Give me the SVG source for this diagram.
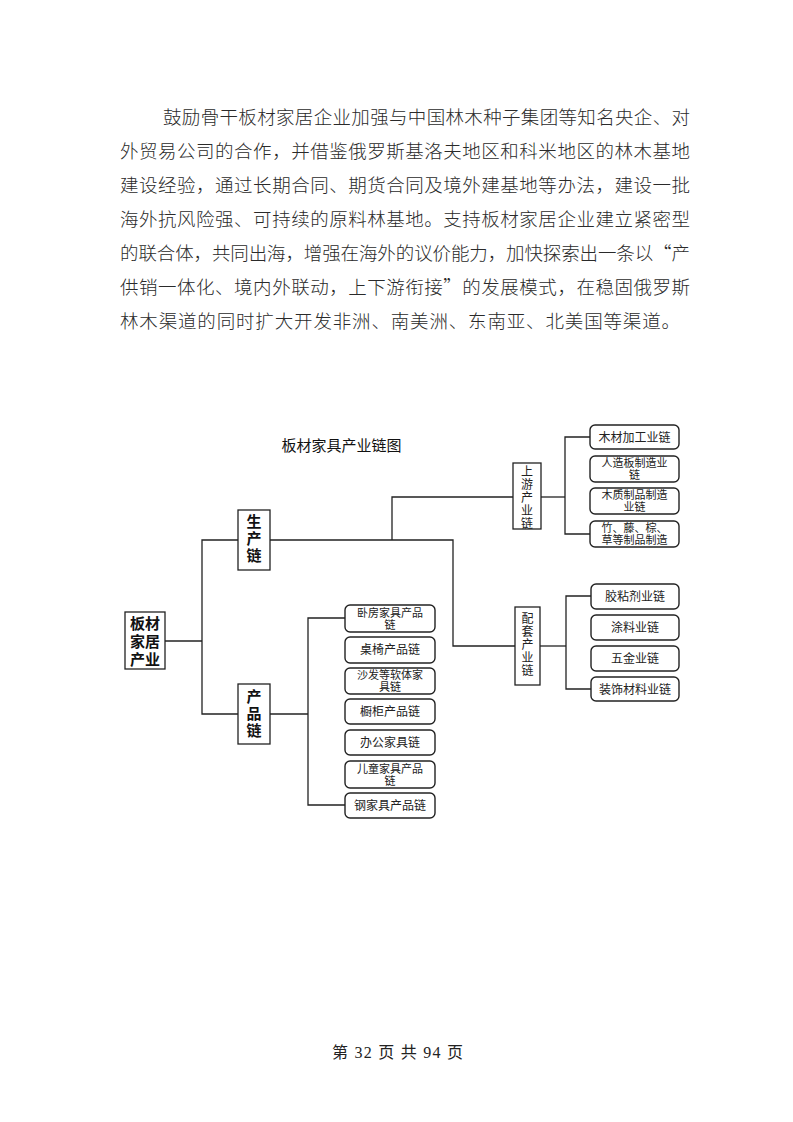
<svg xmlns="http://www.w3.org/2000/svg" width="793" height="1122" viewBox="0 0 793 1122">
<style>
.para{font-family:"Noto Sans CJK SC","Noto Sans",sans-serif;font-size:18.5px;font-weight:300;fill:#2a2a2a;}
.title{font-family:"Noto Sans CJK SC",sans-serif;font-size:15px;fill:#111;}
.sq{fill:#fff;stroke:#222;stroke-width:1.3;}
.rd{fill:#fff;stroke:#222;stroke-width:1.4;}
.bt{font-family:"Liberation Serif","Noto Sans CJK SC",serif;font-weight:bold;font-size:15px;fill:#111;text-anchor:middle;}
.st{font-family:"Liberation Serif","Noto Sans CJK SC",serif;font-size:12px;fill:#222;text-anchor:middle;}
.lt{font-family:"Liberation Serif","Noto Sans CJK SC",serif;font-size:12px;fill:#222;text-anchor:middle;}
.l2{font-family:"Liberation Serif","Noto Sans CJK SC",serif;font-size:11px;fill:#222;text-anchor:middle;}
.conn{fill:none;stroke:#222;stroke-width:1.3;}
.foot{font-family:"Liberation Serif","Noto Sans CJK SC",serif;font-size:16px;fill:#222;text-anchor:middle;}
</style>
<rect width="793" height="1122" fill="#fff"/>
<g id="paragraph">
<text class="para" x="163" y="124" textLength="527" lengthAdjust="spacing">鼓励骨干板材家居企业加强与中国林木种子集团等知名央企、对</text>
<text class="para" x="120" y="158" textLength="570" lengthAdjust="spacing">外贸易公司的合作，并借鉴俄罗斯基洛夫地区和科米地区的林木基地</text>
<text class="para" x="120" y="192" textLength="570" lengthAdjust="spacing">建设经验，通过长期合同、期货合同及境外建基地等办法，建设一批</text>
<text class="para" x="120" y="226" textLength="570" lengthAdjust="spacing">海外抗风险强、可持续的原料林基地。支持板材家居企业建立紧密型</text>
<text class="para" x="120" y="260" textLength="570" lengthAdjust="spacing">的联合体，共同出海，增强在海外的议价能力，加快探索出一条以“产</text>
<text class="para" x="120" y="294" textLength="570" lengthAdjust="spacing">供销一体化、境内外联动，上下游衔接”的发展模式，在稳固俄罗斯</text>
<text class="para" x="120" y="328" textLength="560" lengthAdjust="spacing">林木渠道的同时扩大开发非洲、南美洲、东南亚、北美国等渠道。</text>
</g>
<g id="title"><text class="title" x="341.5" y="451" text-anchor="middle">板材家具产业链图</text></g>
<g id="connectors">
<polyline class="conn" points="165,641 202,641"/>
<polyline class="conn" points="238,540 202,540 202,714 238,714"/>
<polyline class="conn" points="270,540 453,540 453,646 515,646"/>
<polyline class="conn" points="392,540 392,497 513,497"/>
<polyline class="conn" points="541,497 565,497"/>
<polyline class="conn" points="590,437 565,437 565,534 590,534"/>
<polyline class="conn" points="540,646 566,646"/>
<polyline class="conn" points="591,596 566,596 566,689 591,689"/>
<polyline class="conn" points="270,714 308,714"/>
<polyline class="conn" points="345,618 308,618 308,805 345,805"/>
</g>
<g id="root">
<rect class="sq" x="125" y="612" width="40" height="57"/>
<text class="bt" x="145" y="629" font-size="16">板材</text>
<text class="bt" x="145" y="647" font-size="16">家居</text>
<text class="bt" x="145" y="665" font-size="16">产业</text>
</g>
<g id="production">
<rect class="sq" x="238" y="510" width="32" height="60"/>
<text class="bt" x="254" y="527">生</text>
<text class="bt" x="254" y="544">产</text>
<text class="bt" x="254" y="561">链</text>
</g>
<g id="product">
<rect class="sq" x="238" y="684" width="32" height="60"/>
<text class="bt" x="254" y="702">产</text>
<text class="bt" x="254" y="719">品</text>
<text class="bt" x="254" y="736">链</text>
</g>
<g id="upstream">
<rect class="sq" x="513" y="463" width="28" height="66"/>
<text class="st" x="527" y="476">上</text>
<text class="st" x="527" y="489">游</text>
<text class="st" x="527" y="502">产</text>
<text class="st" x="527" y="515">业</text>
<text class="st" x="527" y="528">链</text>
</g>
<g id="supporting">
<rect class="sq" x="515" y="607" width="25" height="78"/>
<text class="st" x="527.5" y="623">配</text>
<text class="st" x="527.5" y="636">套</text>
<text class="st" x="527.5" y="649">产</text>
<text class="st" x="527.5" y="662">业</text>
<text class="st" x="527.5" y="675">链</text>
</g>
<g id="u1"><rect class="rd" x="590" y="425" width="89" height="24" rx="5"/><text class="lt" x="634.5" y="441.5">木材加工业链</text></g>
<g id="u2"><rect class="rd" x="590" y="456" width="89" height="26" rx="5"/><text class="l2" x="634.5" y="467">人造板制造业</text><text class="l2" x="634.5" y="479">链</text></g>
<g id="u3"><rect class="rd" x="590" y="488" width="89" height="26" rx="5"/><text class="l2" x="634.5" y="499">木质制品制造</text><text class="l2" x="634.5" y="511">业链</text></g>
<g id="u4"><rect class="rd" x="590" y="521" width="89" height="26" rx="5"/><text class="l2" x="634.5" y="532">竹、藤、棕、</text><text class="l2" x="634.5" y="544">草等制品制造</text></g>
<g id="s1"><rect class="rd" x="591" y="584" width="88" height="25" rx="5"/><text class="lt" x="635" y="601">胶粘剂业链</text></g>
<g id="s2"><rect class="rd" x="591" y="615" width="88" height="25" rx="5"/><text class="lt" x="635" y="632">涂料业链</text></g>
<g id="s3"><rect class="rd" x="591" y="646" width="88" height="25" rx="5"/><text class="lt" x="635" y="663">五金业链</text></g>
<g id="s4"><rect class="rd" x="591" y="677" width="88" height="24" rx="5"/><text class="lt" x="635" y="693.5">装饰材料业链</text></g>
<g id="p1"><rect class="rd" x="345" y="605" width="90" height="27" rx="5"/><text class="l2" x="390" y="616.5">卧房家具产品</text><text class="l2" x="390" y="628.5">链</text></g>
<g id="p2"><rect class="rd" x="345" y="637" width="90" height="26" rx="5"/><text class="lt" x="390" y="654">桌椅产品链</text></g>
<g id="p3"><rect class="rd" x="345" y="668" width="90" height="26" rx="5"/><text class="l2" x="390" y="679">沙发等软体家</text><text class="l2" x="390" y="691">具链</text></g>
<g id="p4"><rect class="rd" x="345" y="699" width="90" height="25" rx="5"/><text class="lt" x="390" y="716">橱柜产品链</text></g>
<g id="p5"><rect class="rd" x="345" y="730" width="90" height="25" rx="5"/><text class="lt" x="390" y="747">办公家具链</text></g>
<g id="p6"><rect class="rd" x="345" y="761" width="90" height="27" rx="5"/><text class="l2" x="390" y="772.5">儿童家具产品</text><text class="l2" x="390" y="784.5">链</text></g>
<g id="p7"><rect class="rd" x="345" y="793" width="90" height="25" rx="5"/><text class="lt" x="390" y="810">钢家具产品链</text></g>
<g id="footer"><text class="foot" x="397.5" y="1058" textLength="131" lengthAdjust="spacing">第 32 页 共 94 页</text></g>
</svg>
